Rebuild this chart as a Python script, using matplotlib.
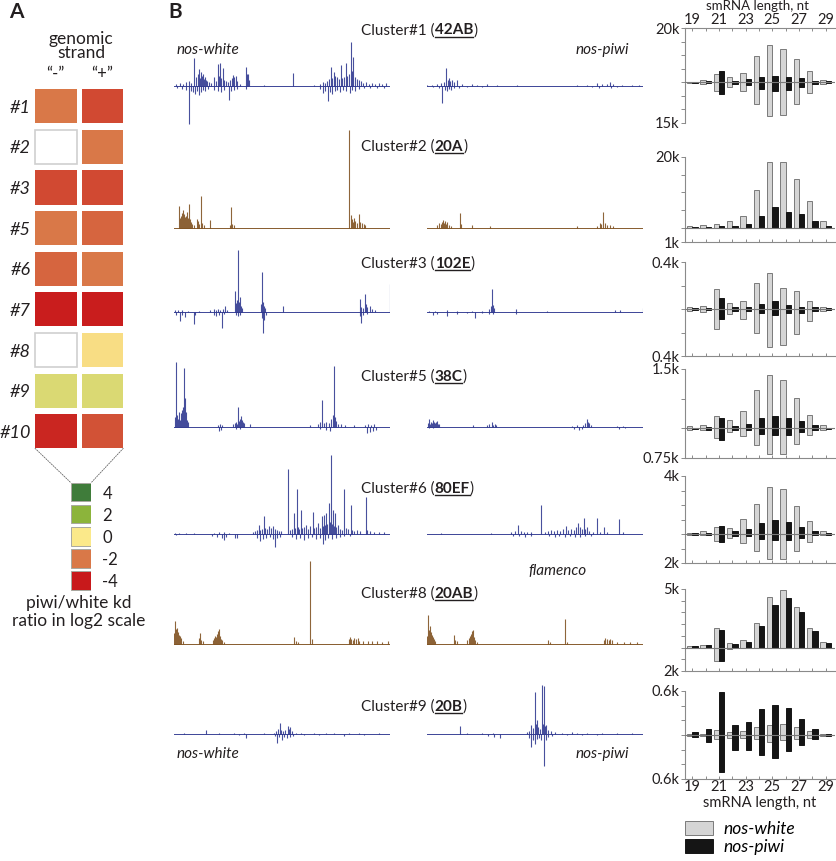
import numpy as np
import matplotlib.pyplot as plt
from matplotlib.patches import Rectangle, ConnectionPatch
from matplotlib.colors import LinearSegmentedColormap
from matplotlib.lines import Line2D
from matplotlib.ticker import MultipleLocator

plt.rcParams['font.family'] = ['Lato', 'DejaVu Sans']
TXT = '#231F20'

# ---------------- panel A data ----------------
cluster_ids = ['#1', '#2', '#3', '#5', '#6', '#7', '#8', '#9', '#10']
strands = ['\u201c-\u201d', '\u201c+\u201d']
log2_minus = [-2.0, np.nan, -3.0, -2.0, -2.4, -3.9, np.nan, 0.6, -3.7]
log2_plus = [-3.0, -2.0, -3.0, -2.4, -2.0, -3.9, -0.2, 0.6, -2.8]
scale_values = [4, 2, 0, -2, -4]
scale_colors = ['#C8191B', '#D97848', '#FCE98B', '#8DB53B', '#3F7C3A']  # -4 .. 4

# ---------------- panel B data ----------------
titles = ['Cluster#1', 'Cluster#2', 'Cluster#3', 'Cluster#5', 'Cluster#6', 'Cluster#8', 'Cluster#9']
bands = ['42AB', '20A', '102E', '38C', '80EF', '20AB', '20B']
track_kind = ['blue', 'brown', 'blue', 'blue', 'blue', 'brown', 'blue']

# genome browser tracks: (position along cluster, signal) for sense (up) / antisense (dn)
c1_white_up = [(2, 2), (6, 3), (9, 2), (12, 4), (15, 5), (17, 3), (20, 28), (22, 9), (24, 12), (25, 17), (26, 8),
               (27, 14), (28, 10), (29, 12), (30, 7), (31, 9), (32, 6), (33, 5), (35, 4), (37, 3), (40, 9), (42, 5),
               (44, 22), (45, 10), (46, 23), (47, 8), (49, 18), (50, 6), (52, 5), (54, 4), (56, 6), (58, 8), (59, 11),
               (60, 9), (62, 10), (63, 5), (66, 2), (72, 19), (73, 12), (74, 12), (75, 6), (90, 1), (119, 13),
               (140, 1), (146, 2), (149, 4), (151, 3), (153, 5), (155, 7), (157, 19), (158, 8), (160, 14), (161, 10),
               (163, 9), (165, 7), (167, 21), (168, 8), (170, 9), (172, 23), (173, 10), (175, 12), (177, 44),
               (178, 15), (179, 29), (181, 9), (183, 7), (185, 6), (187, 5), (189, 3), (192, 4), (195, 2), (198, 3),
               (201, 2), (205, 3), (208, 2), (212, 3)]
c1_white_dn = [(3, 2), (8, 3), (12, 4), (15, 38), (17, 5), (19, 6), (21, 8), (23, 5), (25, 9), (27, 6), (29, 4),
               (31, 5), (34, 3), (40, 4), (44, 5), (47, 6), (50, 4), (55, 14), (57, 5), (60, 4), (63, 3), (72, 3),
               (146, 3), (149, 7), (151, 5), (154, 15), (156, 6), (158, 8), (161, 5), (163, 4), (166, 6), (169, 4),
               (172, 5), (176, 7), (178, 4), (181, 5), (185, 3), (190, 2), (196, 2), (203, 2), (210, 2)]
c1_piwi_up = [(0, 1), (5, 1), (10, 2), (14, 3), (17, 4), (19, 18), (21, 6), (22, 8), (23, 5), (25, 6), (27, 4),
              (30, 6), (35, 2), (45, 2), (50, 1), (60, 2), (70, 1), (90, 1), (150, 1), (160, 1), (170, 3), (175, 2),
              (180, 2), (183, 4), (186, 2), (195, 1), (205, 1), (212, 1)]
c1_piwi_dn = [(6, 1), (12, 2), (15, 17), (18, 4), (20, 5), (22, 3), (24, 4), (27, 2), (32, 2), (40, 1), (55, 1),
              (165, 1), (172, 2), (184, 2), (190, 1)]

c2_white_up = [(5, 22), (6, 10), (7, 12), (8, 15), (9, 18), (10, 14), (11, 11), (12, 12), (13, 16), (14, 10),
               (15, 24), (16, 9), (17, 6), (18, 4), (20, 3), (23, 9), (24, 7), (25, 4), (27, 32), (28, 5), (30, 3),
               (36, 8), (56, 3), (57, 21), (58, 4), (60, 3), (175, 98), (177, 13), (178, 9), (179, 6), (180, 10),
               (181, 7), (183, 5), (185, 14), (186, 6), (188, 5), (190, 4), (191, 3)]
c2_white_dn = []
c2_piwi_up = [(10, 3), (12, 5), (14, 4), (15, 6), (16, 8), (17, 5), (18, 7), (19, 4), (20, 6), (22, 3), (24, 2),
              (33, 15), (34, 4), (45, 3), (63, 2), (150, 2), (170, 2), (173, 5), (174, 4), (176, 16), (178, 5),
              (180, 3), (183, 3), (186, 2)]
c2_piwi_dn = []

c3_white_up = [(1, 2), (4, 2), (8, 2), (14, 1), (25, 1), (36, 2), (40, 3), (42, 2), (44, 3), (46, 2), (49, 3),
               (51, 6), (53, 2), (61, 21), (62, 9), (63, 12), (64, 62), (65, 10), (66, 15), (67, 6), (68, 4), (87, 8),
               (88, 40), (89, 10), (90, 6), (91, 4), (109, 6), (186, 13), (187, 5), (189, 4), (191, 18), (192, 8),
               (193, 5), (196, 6), (198, 3), (201, 2), (216, 28)]
c3_white_dn = [(2, 3), (6, 9), (8, 3), (11, 5), (20, 12), (21, 3), (40, 3), (42, 4), (45, 3), (48, 16), (50, 2),
               (62, 3), (64, 4), (66, 3), (88, 6), (89, 21), (90, 8), (92, 3), (186, 4), (187, 11), (189, 3), (193, 2)]
c3_piwi_up = [(2, 1), (8, 1), (20, 2), (30, 1), (45, 1), (55, 1), (62, 3), (64, 6), (65, 23), (66, 7), (67, 4),
              (89, 3), (120, 1), (188, 2), (193, 2), (216, 4)]
c3_piwi_dn = [(6, 3), (10, 2), (20, 4), (30, 2), (40, 1), (48, 6), (55, 1), (62, 2), (66, 2), (89, 2)]

c5_white_up = [(1, 10), (2, 65), (3, 12), (4, 8), (5, 15), (6, 7), (7, 14), (8, 17), (9, 20), (10, 59), (11, 29),
               (12, 15), (13, 7), (14, 5), (44, 2), (46, 3), (48, 2), (59, 3), (61, 4), (62, 5), (63, 3), (64, 20),
               (65, 6), (66, 8), (67, 11), (68, 7), (69, 5), (70, 4), (76, 3), (136, 2), (144, 3), (146, 5),
               (148, 27), (150, 4), (152, 5), (155, 4), (157, 8), (159, 12), (160, 61), (161, 10), (162, 6),
               (164, 3), (167, 3), (171, 2), (180, 2), (191, 2), (194, 3), (197, 2), (200, 3)]
c5_white_dn = [(45, 4), (47, 3), (62, 2), (66, 2), (146, 2), (152, 3), (156, 4), (193, 6), (196, 5), (199, 4),
               (202, 3)]
c5_piwi_up = [(1, 4), (2, 8), (3, 3), (4, 5), (5, 4), (6, 7), (7, 5), (8, 4), (9, 5), (10, 6), (11, 3), (12, 3),
              (46, 2), (60, 2), (62, 3), (65, 5), (66, 2), (68, 3), (69, 2), (145, 1), (150, 2), (156, 2), (158, 4),
              (160, 8), (161, 5), (162, 4), (164, 2), (190, 1), (196, 1)]
c5_piwi_dn = [(2, 1), (6, 1), (147, 2), (152, 3), (155, 2), (192, 2), (198, 1)]

c6_white_up = [(1, 1), (5, 1), (12, 1), (20, 1), (40, 1), (45, 2), (50, 2), (55, 1), (79, 2), (81, 3), (83, 4),
               (85, 9), (86, 4), (88, 5), (90, 18), (91, 6), (93, 5), (95, 8), (97, 6), (99, 8), (101, 5), (103, 4),
               (105, 3), (107, 3), (114, 65), (116, 4), (118, 5), (120, 21), (121, 6), (123, 45), (124, 7),
               (125, 5), (127, 24), (128, 6), (130, 7), (132, 9), (134, 5), (136, 8), (139, 22), (140, 6), (142, 7),
               (144, 11), (146, 6), (148, 18), (149, 8), (150, 19), (151, 9), (152, 21), (153, 10), (155, 31),
               (156, 12), (157, 79), (158, 10), (159, 24), (160, 8), (161, 21), (162, 7), (164, 9), (166, 5),
               (168, 4), (170, 45), (172, 6), (174, 5), (177, 29), (178, 4), (180, 3), (183, 4), (186, 3),
               (192, 37), (193, 4), (196, 3), (200, 2), (205, 2), (210, 2)]
c6_white_dn = [(2, 1), (38, 2), (43, 3), (48, 4), (50, 6), (52, 3), (61, 4), (63, 4), (83, 4), (86, 7), (89, 5),
               (92, 4), (96, 3), (99, 5), (101, 13), (103, 4), (106, 3), (118, 3), (122, 5), (126, 4), (130, 6),
               (134, 4), (138, 3), (142, 5), (146, 4), (149, 10), (151, 6), (154, 4), (158, 5), (162, 4), (166, 3),
               (170, 2), (176, 2)]
c6_piwi_up = [(14, 1), (64, 1), (84, 2), (88, 3), (91, 9), (94, 3), (97, 2), (100, 2), (104, 2), (114, 29),
              (118, 2), (121, 3), (124, 4), (127, 3), (130, 4), (133, 3), (136, 5), (139, 8), (141, 4), (144, 5),
              (147, 4), (149, 7), (151, 11), (153, 7), (155, 5), (157, 16), (158, 5), (160, 7), (162, 3), (166, 2),
              (170, 16), (173, 2), (177, 7), (180, 2), (192, 15), (196, 2)]
c6_piwi_dn = [(86, 2), (92, 2), (98, 3), (104, 2), (122, 2), (128, 3), (132, 2), (138, 3), (143, 2), (148, 3),
              (153, 3), (158, 2), (164, 2)]

c8_white_up = [(0, 11), (1, 23), (2, 15), (3, 16), (4, 12), (5, 9), (6, 8), (7, 6), (9, 3), (25, 6), (26, 11),
               (27, 4), (29, 3), (39, 4), (40, 6), (41, 8), (42, 7), (43, 10), (44, 13), (45, 15), (46, 8), (47, 5),
               (48, 4), (50, 2), (120, 7), (122, 3), (124, 2), (136, 83), (138, 5), (175, 5), (176, 7), (177, 5),
               (179, 4), (180, 6), (182, 5), (184, 6), (185, 3), (189, 3), (194, 3), (198, 3), (203, 3), (208, 2),
               (214, 3)]
c8_white_dn = []
c8_piwi_up = [(0, 8), (1, 29), (2, 14), (3, 18), (4, 12), (5, 9), (6, 7), (7, 5), (8, 3), (27, 9), (28, 4), (30, 3),
              (40, 4), (42, 6), (43, 8), (44, 10), (45, 13), (46, 14), (47, 7), (48, 4), (50, 2), (121, 4), (123, 2),
              (138, 25), (140, 2), (177, 4), (178, 6), (180, 5), (182, 4), (183, 5), (185, 4), (190, 2), (197, 2),
              (203, 2), (210, 2)]
c8_piwi_dn = []

c9_white_up = [(10, 1), (32, 4), (45, 1), (60, 1), (70, 1), (90, 1), (100, 1), (102, 3), (104, 5), (106, 11),
               (107, 4), (109, 3), (111, 4), (114, 8), (115, 5), (116, 7), (118, 3), (122, 1), (127, 1), (140, 1),
               (152, 1), (160, 1), (175, 1), (185, 1), (205, 1)]
c9_white_dn = [(65, 1), (72, 4), (101, 2), (103, 9), (105, 3), (108, 6), (110, 3), (113, 4), (116, 3), (119, 2),
               (130, 1), (145, 1), (170, 2), (190, 1)]
c9_piwi_up = [(33, 8), (40, 1), (55, 1), (66, 1), (100, 2), (102, 3), (104, 9), (106, 6), (108, 42), (109, 10),
              (110, 14), (111, 7), (113, 5), (115, 49), (116, 10), (117, 48), (118, 8), (119, 9), (121, 4), (124, 3),
              (128, 2), (135, 1), (145, 2), (150, 1), (160, 1), (175, 1), (190, 1), (205, 1)]
c9_piwi_dn = [(61, 2), (67, 3), (73, 4), (102, 4), (104, 13), (106, 6), (108, 10), (110, 5), (112, 4), (114, 6),
              (117, 32), (119, 6), (121, 3), (125, 2), (140, 1), (155, 1), (170, 1)]

white_tracks = [(c1_white_up, c1_white_dn), (c2_white_up, c2_white_dn), (c3_white_up, c3_white_dn),
                (c5_white_up, c5_white_dn), (c6_white_up, c6_white_dn), (c8_white_up, c8_white_dn),
                (c9_white_up, c9_white_dn)]
piwi_tracks = [(c1_piwi_up, c1_piwi_dn), (c2_piwi_up, c2_piwi_dn), (c3_piwi_up, c3_piwi_dn),
               (c5_piwi_up, c5_piwi_dn), (c6_piwi_up, c6_piwi_dn), (c8_piwi_up, c8_piwi_dn),
               (c9_piwi_up, c9_piwi_dn)]

# smRNA length profiles (k reads), sense up / antisense down
lengths = list(range(19, 30))
white_sense = [
    [0.2, 0.7, 3.0, 1.9, 3.6, 9.8, 13.8, 12.2, 8.6, 4.2, 1.0],
    [0.6, 0.8, 1.0, 1.8, 3.3, 10.6, 18.6, 18.6, 13.9, 7.5, 1.8],
    [0.014, 0.028, 0.168, 0.048, 0.07, 0.22, 0.31, 0.18, 0.155, 0.065, 0.015],
    [0.06, 0.09, 0.32, 0.21, 0.45, 0.97, 1.34, 1.22, 0.76, 0.34, 0.08],
    [0.08, 0.2, 0.5, 0.43, 1.06, 2.1, 3.22, 3.13, 1.93, 0.92, 0.23],
    [0.17, 0.23, 1.68, 0.4, 0.66, 2.09, 4.34, 4.95, 3.48, 1.68, 0.46],
    [0.01, 0.01, 0.074, 0.037, 0.055, 0.11, 0.137, 0.156, 0.105, 0.05, 0.01],
]
white_anti = [
    [0.2, 0.7, 3.3, 1.6, 3.3, 8.0, 12.3, 11.9, 8.0, 3.9, 0.8],
    [0, 0, 0, 0, 0, 0, 0, 0, 0, 0, 0],
    [0.014, 0.028, 0.168, 0.045, 0.084, 0.2, 0.32, 0.31, 0.21, 0.1, 0.02],
    [0.03, 0.05, 0.25, 0.09, 0.19, 0.42, 0.64, 0.64, 0.4, 0.17, 0.04],
    [0.08, 0.05, 0.46, 0.28, 0.62, 1.2, 1.75, 1.73, 1.15, 0.58, 0.1],
    [0, 0, 1.17, 0.14, 0, 0, 0, 0, 0, 0, 0],
    [0.01, 0.01, 0.055, 0.04, 0.04, 0.05, 0.1, 0.073, 0.06, 0.04, 0.01],
]
piwi_sense = [
    [0.2, 0.3, 4.1, 0.6, 1.1, 1.9, 2.4, 1.9, 1.4, 0.6, 0.3],
    [0.3, 0.3, 0.6, 0.6, 1.1, 3.4, 5.9, 4.5, 3.9, 2.0, 0.6],
    [0.005, 0.01, 0.096, 0.02, 0.02, 0.042, 0.067, 0.03, 0.02, 0.015, 0.008],
    [0.02, 0.04, 0.27, 0.06, 0.12, 0.26, 0.31, 0.27, 0.18, 0.08, 0.02],
    [0.04, 0.07, 0.55, 0.2, 0.35, 0.76, 0.99, 0.85, 0.48, 0.2, 0.06],
    [0.17, 0.23, 1.54, 0.34, 0.51, 1.83, 3.63, 4.23, 3.06, 1.4, 0.37],
    [0.037, 0.078, 0.585, 0.137, 0.18, 0.36, 0.41, 0.37, 0.22, 0.088, 0.02],
]
piwi_anti = [
    [0.2, 0.3, 4.4, 0.6, 1.1, 2.5, 3.2, 2.8, 1.9, 0.6, 0.3],
    [0, 0, 0, 0, 0, 0, 0, 0, 0, 0, 0],
    [0.005, 0.01, 0.089, 0.017, 0.017, 0.03, 0.05, 0.035, 0.035, 0.02, 0.008],
    [0.02, 0.03, 0.29, 0.04, 0.05, 0.14, 0.18, 0.18, 0.1, 0.04, 0.02],
    [0.04, 0.05, 0.55, 0.14, 0.14, 0.37, 0.44, 0.42, 0.26, 0.1, 0.04],
    [0, 0, 1.14, 0, 0, 0, 0, 0, 0, 0, 0],
    [0.027, 0.096, 0.51, 0.2, 0.21, 0.27, 0.32, 0.22, 0.13, 0.05, 0.02],
]
y_low = [-15, -4, -0.4, -0.75, -2, -2, -0.6]
y_high = [20, 20, 0.4, 1.5, 4, 5, 0.6]
y_labels = [('15k', '20k'), ('1k', '20k'), ('0.4k', '0.4k'), ('0.75k', '1.5k'),
            ('2k', '4k'), ('2k', '5k'), ('0.6k', '0.6k')]
y_step = [5, 5, 0.2, 0.75, 1, 1, 0.2]
odd_lengths = [19, 21, 23, 25, 27, 29]

# ---------------- figure ----------------
W, H = 836, 861
fig = plt.figure(figsize=(W / 100, H / 100), dpi=100)


def box(x0, y0, x1, y1):
    # pixel box (origin top-left) -> figure rect
    return [x0 / W, 1 - y1 / H, (x1 - x0) / W, (y1 - y0) / H]


def fx(x):
    return x / W


def fy(y):
    return 1 - y / H


# ---- panel A ----
fig.text(fx(9), fy(12), 'A', fontsize=15, fontweight='bold', va='center', color=TXT)
fig.text(fx(81), fy(46), 'genomic\nstrand', fontsize=12.5, ha='center', va='center',
         linespacing=0.85, color=TXT)

cmap = LinearSegmentedColormap.from_list('ratio', scale_colors)
ax_h = fig.add_axes(box(32.5, 86, 125.8, 451.6))
ax_h.set_xlim(0, 2)
ax_h.set_ylim(len(cluster_ids), 0)
for c, vals in enumerate([log2_minus, log2_plus]):
    for r, v in enumerate(vals):
        if np.isnan(v):
            ax_h.add_patch(Rectangle((c + 0.055, r + 0.09), 0.89, 0.82, facecolor='white',
                                     edgecolor='#CFCFCF', lw=1.2))
        else:
            ax_h.add_patch(Rectangle((c + 0.055, r + 0.08), 0.89, 0.84, facecolor=cmap((v + 4) / 8),
                                     edgecolor='none'))
ax_h.set_yticks([r + 0.5 for r in range(len(cluster_ids))])
ax_h.set_yticklabels(cluster_ids, fontsize=13, fontstyle='italic', color=TXT)
ax_h.xaxis.tick_top()
ax_h.set_xticks([0.5, 1.5])
ax_h.set_xticklabels(strands, fontsize=12, color=TXT)
ax_h.tick_params(length=0, pad=1)
ax_h.tick_params(axis='x', pad=3)
for s in ax_h.spines.values():
    s.set_visible(False)

ax_s = fig.add_axes(box(70.7, 481.2, 91.3, 591.7))
ax_s.set_xlim(0, 1)
ax_s.set_ylim(len(scale_values), 0)
for r, v in enumerate(scale_values):
    ax_s.add_patch(Rectangle((0, r + 0.06), 1, 0.85, facecolor=cmap((v + 4) / 8),
                             edgecolor='#A8A8A0', lw=0.7))
ax_s.set_xticks([])
ax_s.yaxis.tick_right()
ax_s.set_yticks([r + 0.5 for r in range(len(scale_values))])
ax_s.set_yticklabels([str(v) for v in scale_values], fontsize=12, color=TXT)
ax_s.tick_params(length=0, pad=8)
for s in ax_s.spines.values():
    s.set_visible(False)

for xa, xb in [(0.055, 0.0), (1.945, 1.0)]:
    con = ConnectionPatch(xyA=(xa, len(cluster_ids) - 0.08), coordsA=ax_h.transData,
                          xyB=(xb, 0.06), coordsB=ax_s.transData,
                          color='#666666', lw=0.6, ls=(0, (1.5, 1.5)))
    fig.add_artist(con)

fig.text(fx(79), fy(612), 'piwi/white kd\nratio in log2 scale', fontsize=12.5, ha='center',
         va='center', linespacing=1.15, color=TXT)

# ---- panel B: genome browser tracks ----
fig.text(fx(168), fy(12), 'B', fontsize=15, fontweight='bold', va='center', color=TXT)
colors = {'blue': '#28318C', 'brown': '#7A4A17'}
baselines = [86, 228, 312, 427.3, 534.3, 644.3, 734.3]
title_y = [29.3, 146, 263, 376, 488, 593, 706]
HI, LO = 100, 45


def draw_track(ax, up, dn, color):
    ax.set_xlim(0, 216)
    ax.set_ylim(-LO, HI)
    ax.axis('off')
    ax.axhline(0, color=color, lw=0.7, alpha=0.9)
    if up:
        p, h = zip(*up)
        ax.vlines(p, 0, h, color=color, lw=0.8, alpha=0.85)
    if dn:
        p, h = zip(*dn)
        ax.vlines(p, 0, [-v for v in h], color=color, lw=0.8, alpha=0.85)


for i in range(len(titles)):
    yb = baselines[i]
    col = colors[track_kind[i]]
    axl = fig.add_axes(box(174.3, yb - HI, 390, yb + LO))
    draw_track(axl, *white_tracks[i], col)
    axr = fig.add_axes(box(427.3, yb - HI, 643.3, yb + LO))
    draw_track(axr, *piwi_tracks[i], col)

renderer = fig.canvas.get_renderer()
for i in range(len(titles)):
    yb = title_y[i] + 5
    t1 = fig.text(fx(361), fy(yb), titles[i] + ' (', fontsize=11, va='baseline', color=TXT)
    bb1 = t1.get_window_extent(renderer)
    t2 = fig.text(bb1.x1 / W, fy(yb), bands[i], fontsize=11, fontweight='bold', va='baseline', color=TXT)
    bb2 = t2.get_window_extent(renderer)
    fig.add_artist(Line2D([bb2.x0 / W, bb2.x1 / W], [fy(yb + 2.2)] * 2, color=TXT, lw=1.0))
    fig.text(bb2.x1 / W, fy(yb), ')', fontsize=11, va='baseline', color=TXT)

fig.text(fx(528), fy(571), 'flamenco', fontsize=11, fontstyle='italic', va='center', color=TXT)
for (x, y, s) in [(177, 50, 'nos-white'), (576, 50, 'nos-piwi'), (177, 754, 'nos-white'), (576, 754, 'nos-piwi')]:
    fig.text(fx(x), fy(y), s, fontsize=11, fontstyle='italic', va='center', color=TXT)

# ---- length profiles ----
panels = [(28, 123), (157, 242), (262, 356), (369, 458), (476, 563), (589, 671), (691, 779)]
x = np.array(lengths)
bar_w = 0.4
handles = None
for i, (top, bot) in enumerate(panels):
    ax = fig.add_axes(box(685, top, 835, bot))
    hw = ax.bar(x - bar_w / 2, white_sense[i], bar_w, color='#D5D5D5', edgecolor='#7A7A7A', lw=0.7, zorder=2)
    ax.bar(x - bar_w / 2, -np.array(white_anti[i]), bar_w, color='#D5D5D5', edgecolor='#7A7A7A', lw=0.7, zorder=2)
    hp = ax.bar(x + bar_w / 2, piwi_sense[i], bar_w, color='#151515', edgecolor='#151515', lw=0.7, zorder=2)
    ax.bar(x + bar_w / 2, -np.array(piwi_anti[i]), bar_w, color='#151515', edgecolor='#151515', lw=0.7, zorder=2)
    ax.axhline(0, color='#7A7A7A', lw=0.8, zorder=3)
    ax.set_xlim(18.45, 29.7)
    ax.set_ylim(y_low[i], y_high[i])
    ax.set_yticks([y_low[i], y_high[i]])
    ax.set_yticklabels(y_labels[i], fontsize=10.5, color=TXT)
    ax.yaxis.set_minor_locator(MultipleLocator(y_step[i]))
    ax.set_xticks(odd_lengths)
    ax.xaxis.set_minor_locator(MultipleLocator(1))
    ax.tick_params(axis='y', which='both', color='#8A8A8A', length=3, width=0.7, pad=1)
    ax.tick_params(axis='x', which='both', color='#8A8A8A', length=2.5, width=0.7, pad=0.5, direction='in')
    for s in ['right', 'top', 'bottom', 'left']:
        ax.spines[s].set_color('#8A8A8A')
        ax.spines[s].set_linewidth(0.8)
    ax.spines['right'].set_visible(False)
    if i == 0:
        ax.spines['bottom'].set_visible(False)
        ax.xaxis.tick_top()
        ax.set_xticklabels([str(v) for v in odd_lengths], fontsize=10.5, color=TXT)
        ax.tick_params(axis='x', which='both', bottom=False, top=True)
    else:
        ax.spines['top'].set_visible(False)
        if i == len(panels) - 1:
            ax.set_xticklabels([str(v) for v in odd_lengths], fontsize=10.5, color=TXT)
        else:
            ax.set_xticklabels([])
    handles = (hw, hp)

fig.text(fx(758), fy(6), 'smRNA length, nt', fontsize=9.5, ha='center', va='center', color=TXT)
fig.text(fx(760), fy(803), 'smRNA length, nt', fontsize=10.5, ha='center', va='center', color=TXT)

fig.legend(handles, ['nos-white', 'nos-piwi'], loc='upper left', bbox_to_anchor=(fx(685), fy(821)),
           frameon=False, prop={'style': 'italic', 'size': 12.5}, handlelength=1.6, handleheight=0.85,
           labelspacing=0.12, borderpad=0, borderaxespad=0, handletextpad=0.6)

fig.savefig('out.png', dpi=100)
